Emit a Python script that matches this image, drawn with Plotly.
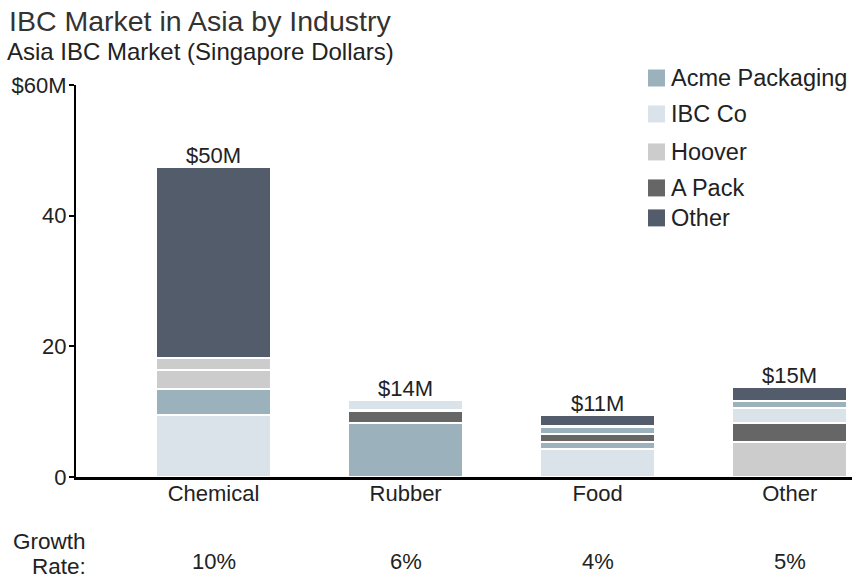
import plotly.graph_objects as go

# ---- data ----
categories = ["Chemical", "Rubber", "Food", "Other"]

# stacked segments, bottom to top, per category
chemical_series = ["IBC Co", "Acme Packaging", "Hoover", "Hoover", "Other"]
chemical_values = [9.5, 4.0, 2.9, 1.8, 29.3]
rubber_series = ["Acme Packaging", "A Pack", "IBC Co"]
rubber_values = [8.3, 1.9, 1.6]
food_series = ["IBC Co", "Acme Packaging", "A Pack", "Acme Packaging", "Other"]
food_values = [4.3, 1.05, 1.25, 1.1, 1.8]
other_series = ["Hoover", "A Pack", "IBC Co", "Acme Packaging", "Other"]
other_values = [5.35, 2.95, 2.3, 1.0, 2.2]

total_labels = ["$50M", "$14M", "$11M", "$15M"]
growth_rates = ["10%", "6%", "4%", "5%"]

legend_order = ["Acme Packaging", "IBC Co", "Hoover", "A Pack", "Other"]
series_colors = {
    "Acme Packaging": "#9bb1bc",
    "IBC Co": "#dae2ea",
    "Hoover": "#cccccc",
    "A Pack": "#666666",
    "Other": "#535c6b",
}

ytick_vals = [0, 20, 40, 60]
ytick_text = ["0", "20", "40", "$60M"]

FONT = "Liberation Sans, Arial, sans-serif"
TXT = "#222222"

W, H = 860, 580
# plot area in pixels: x 76..852, y 85..477.3
PL, PR, PT, PB = 76.0, 852.0, 85.0, 477.3


def px(x):
    return (x - PL) / (PR - PL)


def py(y):
    return (PB - y) / (PB - PT)


# ---- figure ----
fig = go.Figure()
segments = [
    (chemical_series, chemical_values),
    (rubber_series, rubber_values),
    (food_series, food_values),
    (other_series, other_values),
]
for cat, (names, vals) in zip(categories, segments):
    for name, v in zip(names, vals):
        fig.add_trace(go.Bar(
            x=[cat], y=[v], name=name,
            showlegend=False,
            marker=dict(color=series_colors[name], line=dict(color="white", width=2.5)),
            width=0.6,
            hoverinfo="name+y",
        ))

annotations = []
shapes = []
for cat, (names, vals), lab in zip(categories, segments, total_labels):
    annotations.append(dict(
        x=cat, y=sum(vals), xref="x", yref="y", text=lab, showarrow=False,
        yanchor="bottom", yshift=-3, font=dict(size=22, color=TXT, family=FONT),
    ))
for cat, g in zip(categories, growth_rates):
    annotations.append(dict(
        x=cat, y=py(562), xref="x", yref="paper", text=g, showarrow=False,
        yanchor="middle", font=dict(size=22, color=TXT, family=FONT),
    ))
annotations.append(dict(
    x=px(88), y=py(542), xref="paper", yref="paper", text="Growth", showarrow=False,
    xanchor="right", yanchor="middle", font=dict(size=22.5, color=TXT, family=FONT)))
annotations.append(dict(
    x=px(88), y=py(567), xref="paper", yref="paper", text="Rate:", showarrow=False,
    xanchor="right", yanchor="middle", font=dict(size=22.5, color=TXT, family=FONT)))
annotations.append(dict(
    x=px(5), y=py(51), xref="paper", yref="paper", text="Asia IBC Market (Singapore Dollars)",
    showarrow=False, xanchor="left", yanchor="middle",
    font=dict(size=24, color=TXT, family=FONT)))

# legend (custom, larger squares as in the reference)
legend_centers = [78, 114, 152, 188, 218]
for name, cy in zip(legend_order, legend_centers):
    shapes.append(dict(type="rect", xref="paper", yref="paper",
                       x0=px(648), x1=px(665), y0=py(cy + 8.5), y1=py(cy - 8.5),
                       fillcolor=series_colors[name], line=dict(width=0)))
    annotations.append(dict(x=px(669), y=py(cy), xref="paper", yref="paper", text=name,
                            showarrow=False, xanchor="left", yanchor="middle",
                            font=dict(size=23.5, color=TXT, family=FONT)))

fig.update_layout(
    width=W, height=H,
    barmode="stack",
    plot_bgcolor="white", paper_bgcolor="white",
    margin=dict(l=PL, r=W - PR, t=PT, b=H - PB),
    font=dict(family=FONT, size=22, color=TXT),
    title=dict(text="IBC Market in Asia by Industry", x=9 / W, xref="container", xanchor="left",
               y=1 - 21 / H, yref="container", yanchor="middle", pad=dict(t=0, l=0),
               font=dict(size=28.5, color="#333333", family=FONT)),
    showlegend=False,
    xaxis=dict(range=[-0.716, 3.324], showline=True, linecolor="black", linewidth=2.5,
               ticks="", showgrid=False, zeroline=False, tickfont=dict(size=22, color=TXT),
               ticklabelstandoff=-5, fixedrange=True),
    yaxis=dict(range=[0, 60], tickvals=ytick_vals, ticktext=ytick_text, showline=True,
               linecolor="black", linewidth=2, ticks="outside", ticklen=5, tickwidth=1.5,
               tickcolor="black", showgrid=False, zeroline=False,
               tickfont=dict(size=22, color=TXT), ticklabelstandoff=-2, fixedrange=True),
    annotations=annotations,
    shapes=shapes,
)

fig.write_html("out.html", config={"displayModeBar": False},
               post_script="document.body.style.margin='0px';")
